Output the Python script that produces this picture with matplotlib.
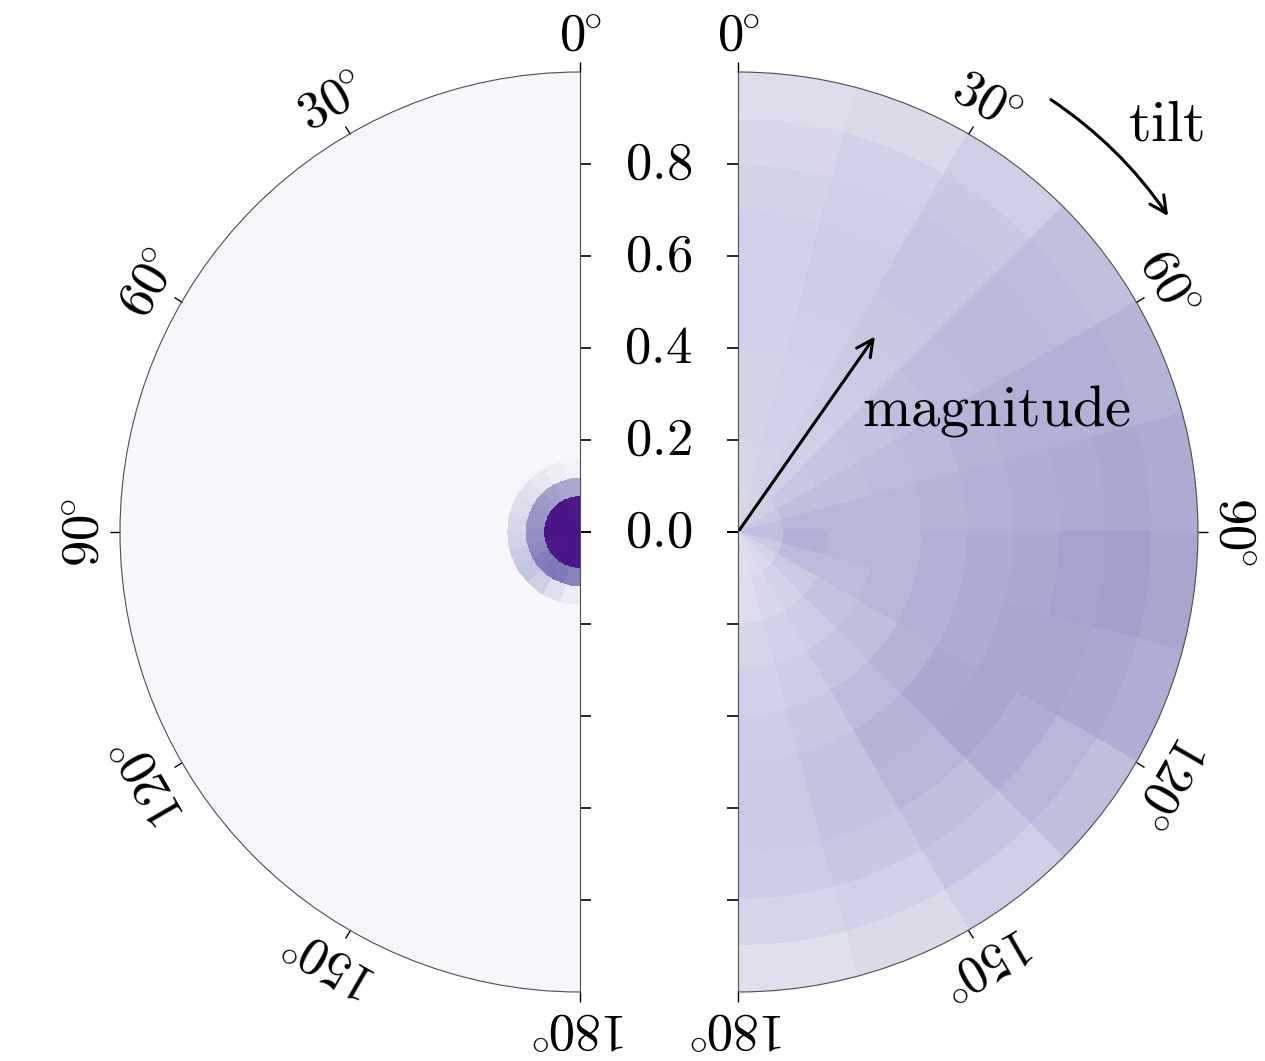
import numpy as np
import matplotlib
matplotlib.use('Agg')
import matplotlib.pyplot as plt

# LaTeX 風のフォント (mathtext の Computer Modern)
matplotlib.rcParams['mathtext.fontset'] = 'cm'
matplotlib.rcParams['font.size'] = 38

# 角度ビン (tilt, 度) と大きさビン (magnitude)
TILT_EDGES = [0, 15, 30, 45, 60, 75, 90, 105, 120, 135, 150, 165, 180]
MAG_EDGES_RIGHT = [0.0, 0.1, 0.2, 0.3, 0.4, 0.5, 0.6, 0.7, 0.8, 0.9, 1.0]
MAG_EDGES_LEFT = [0.0, 0.04, 0.08, 0.12, 0.16, 1.0]

# 左: 原点付近に集中した分布 (行 = magnitude ビン, 列 = tilt ビン)
density_left = [
    [0.93, 0.93, 0.93, 0.93, 0.93, 0.93, 0.93, 0.93, 0.93, 0.93, 0.93, 0.93],
    [0.92, 0.92, 0.93, 0.93, 0.93, 0.93, 0.93, 0.92, 0.92, 0.93, 0.93, 0.93],
    [0.45, 0.46, 0.48, 0.50, 0.52, 0.53, 0.55, 0.58, 0.62, 0.64, 0.63, 0.60],
    [0.09, 0.12, 0.17, 0.21, 0.24, 0.26, 0.28, 0.32, 0.34, 0.30, 0.22, 0.14],
    [0.045, 0.045, 0.045, 0.045, 0.045, 0.045, 0.045, 0.045, 0.045, 0.045, 0.045, 0.045],
]

# 右: 広がった分布
density_right = [
    [0.26, 0.27, 0.28, 0.30, 0.33, 0.36, 0.36, 0.32, 0.28, 0.25, 0.23, 0.22],
    [0.27, 0.28, 0.30, 0.33, 0.37, 0.40, 0.42, 0.38, 0.32, 0.28, 0.26, 0.24],
    [0.28, 0.29, 0.30, 0.34, 0.37, 0.40, 0.40, 0.38, 0.35, 0.31, 0.29, 0.27],
    [0.28, 0.29, 0.31, 0.35, 0.38, 0.40, 0.40, 0.40, 0.37, 0.34, 0.31, 0.29],
    [0.29, 0.30, 0.32, 0.36, 0.39, 0.41, 0.42, 0.42, 0.41, 0.38, 0.33, 0.31],
    [0.29, 0.31, 0.33, 0.38, 0.41, 0.42, 0.44, 0.44, 0.45, 0.41, 0.35, 0.32],
    [0.29, 0.31, 0.34, 0.39, 0.42, 0.43, 0.45, 0.46, 0.46, 0.40, 0.35, 0.32],
    [0.28, 0.30, 0.34, 0.39, 0.42, 0.44, 0.47, 0.46, 0.43, 0.37, 0.33, 0.31],
    [0.26, 0.29, 0.33, 0.38, 0.42, 0.45, 0.48, 0.45, 0.40, 0.34, 0.29, 0.27],
    [0.23, 0.25, 0.30, 0.36, 0.41, 0.44, 0.46, 0.43, 0.37, 0.30, 0.25, 0.22],
]

THETA_TICKS = [0, 30, 60, 90, 120, 150, 180]
R_TICKS = [0.0, 0.2, 0.4, 0.6, 0.8]
SUB = 5  # 外周の円弧を滑らかにするための角度方向の分割数


def draw_half(ax, density, mag_edges, direction, show_rlabels):
    ax.set_theta_zero_location('N')
    ax.set_theta_direction(direction)
    ax.set_thetamin(0)
    ax.set_thetamax(180)

    # 各ビンを細かい角度に分けて描く (値はそのまま繰り返す)
    dens = np.repeat(np.array(density), SUB, axis=1)
    t = np.deg2rad(np.linspace(TILT_EDGES[0], TILT_EDGES[-1], (len(TILT_EDGES) - 1) * SUB + 1))
    T, R = np.meshgrid(t, mag_edges)
    ax.pcolormesh(T, R, dens, cmap='Purples', vmin=0, vmax=1,
                  shading='flat', edgecolors='face', linewidth=0.3)

    ax.set_ylim(0, 1.0)
    ax.grid(False)
    ax.set_yticks(R_TICKS)
    if show_rlabels:
        ax.set_yticklabels([f'${v:.1f}$' for v in R_TICKS])
    else:
        ax.set_yticklabels([])
    # 両側の直線の縁に目盛りを出す
    ax.tick_params(axis='y', which='major', left=True, right=True, direction='out',
                   length=8, width=1.2, color='k', pad=25)

    ax.set_xticks(np.deg2rad(THETA_TICKS))
    ax.set_xticklabels([])
    # 角度の目盛りは外周 (top) のみ, 原点側 (bottom) には出さない
    ax.tick_params(axis='x', which='major', bottom=False, top=True, direction='out',
                   length=7, width=1.0, color='k')
    for t_deg in THETA_TICKS:
        ax.text(np.deg2rad(t_deg), 1.08, rf'${t_deg}^{{\!\!\circ}}$', rotation=direction * t_deg,
                ha='center', va='center', rotation_mode='anchor', clip_on=False)

    for spine in ax.spines.values():
        spine.set_linewidth(0.8)
        spine.set_edgecolor('0.3')


fig = plt.figure(figsize=(12.65, 10.61), dpi=100)
# 半円がちょうど収まるよう、正方形の枠を半円の中心に合わせて置く
ax_l = fig.add_axes([-110 / 1265, 69 / 1061, 920 / 1265, 920 / 1061], projection='polar')
ax_r = fig.add_axes([508 / 1265, 69 / 1061, 920 / 1265, 920 / 1061], projection='polar')

draw_half(ax_l, density_left, MAG_EDGES_LEFT, 1, False)
draw_half(ax_r, density_right, MAG_EDGES_RIGHT, -1, True)

# magnitude の矢印
ax_r.annotate('', xy=(np.deg2rad(35), 0.525), xytext=(0, 0),
              arrowprops=dict(arrowstyle='->', lw=2.2, color='k', mutation_scale=30))
ax_r.text(np.deg2rad(64.9), 0.621, r'$\mathrm{magnitude}$', ha='center', va='center', fontsize=42)

# tilt の矢印 (外周に沿った曲線)
ax_r.annotate('', xy=(np.deg2rad(54), 1.16), xytext=(np.deg2rad(35.6), 1.16),
              arrowprops=dict(arrowstyle='->', lw=2.2, color='k', mutation_scale=30,
                              connectionstyle='arc3,rad=-0.1'),
              annotation_clip=False)
ax_r.text(np.deg2rad(46.4), 1.286, r'$\mathrm{tilt}$', ha='center', va='center',
          fontsize=42, clip_on=False)

plt.savefig('out.png', dpi=100)
plt.close()
